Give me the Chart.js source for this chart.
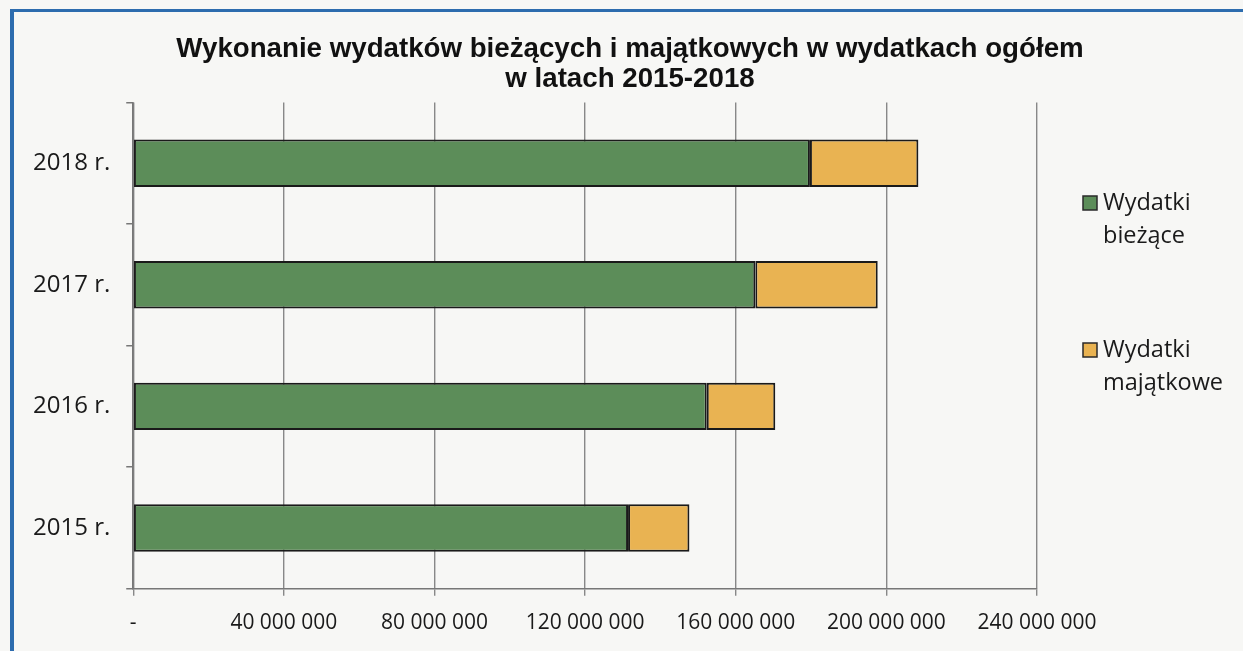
<!DOCTYPE html>
<html lang="pl">
<head>
<meta charset="utf-8">
<title>Wykonanie wydatków 2015-2018</title>
<script src="https://cdn.jsdelivr.net/npm/chart.js@4.4.1/dist/chart.umd.min.js"></script>
<style>
    html, body { margin: 0; padding: 0; background: #f7f7f5; overflow: hidden; }
    #frame {
        position: absolute; left: 10px; top: 9px; width: 1260px; height: 680px;
        border-left: 4px solid #2d6cae; border-top: 3px solid #2d6cae;
    }
    #wrap { position: absolute; left: 0; top: 0; width: 1243px; height: 651px; }
</style>
</head>
<body>
<div id="frame"></div>
<div id="wrap"><canvas id="spendingChart"></canvas></div>
<script>
// categories, top to bottom as in the picture
const years = ["2018 r.", "2017 r.", "2016 r.", "2015 r."];
const seriesNames = ["Wydatki bieżące", "Wydatki majątkowe"];
const currentSpending = [179700000, 165200000, 152300000, 131400000];
const capitalSpending = [28800000, 32500000, 18200000, 16300000];
const xTickValues = [0, 40000000, 80000000, 120000000, 160000000, 200000000, 240000000];
const titleLines = ["Wykonanie wydatków bieżących i majątkowych w wydatkach ogółem", "w latach 2015-2018"];
const seriesColors = ["#5c8d59", "#e9b352"];

const labelFont = "'Open Sans', sans-serif";
const textColor = "#1a1a1a";
const gridColor = "#888888";

function formatAmount(v) {
    if (v === 0) return "-";
    return String(v).replace(/\B(?=(\d{3})+(?!\d))/g, " ");
}

// legend on the right, each name broken into two lines
function drawLegend(chart, box) {
    const ctx = chart.ctx;
    const x = box.left + 46;
    const tops = [196, 343];
    ctx.save();
    ctx.font = "23.5px " + labelFont;
    ctx.textBaseline = "middle";
    ctx.textAlign = "left";
    chart.data.datasets.forEach((ds, i) => {
        const y = tops[i];
        ctx.fillStyle = ds.backgroundColor;
        ctx.fillRect(x, y, 14, 14);
        ctx.strokeStyle = "#2a2a2a";
        ctx.lineWidth = 1.5;
        ctx.strokeRect(x, y, 14, 14);
        ctx.fillStyle = textColor;
        const parts = ds.label.split(" ");
        ctx.fillText(parts[0], x + 20, y + 7);
        ctx.fillText(parts.slice(1).join(" "), x + 20, y + 40);
    });
    ctx.restore();
}

const sideLegend = {
    id: "sideLegend",
    beforeInit(chart) {
        Chart.layouts.addBox(chart, {
            position: "right",
            weight: 0,
            fullSize: false,
            options: {},
            isHorizontal() { return false; },
            update(maxWidth, maxHeight) {
                this.width = 206;
                this.height = maxHeight;
            },
            draw() { drawLegend(chart, this); }
        });
    }
};

const ctx = document.getElementById("spendingChart").getContext("2d");
const chart = new Chart(ctx, {
    type: "bar",
    data: {
        labels: years,
        datasets: [
            {
                label: seriesNames[0],
                data: currentSpending,
                backgroundColor: seriesColors[0],
                borderColor: "#1a1a1a",
                borderWidth: 2,
                borderSkipped: false
            },
            {
                label: seriesNames[1],
                data: capitalSpending,
                backgroundColor: seriesColors[1],
                borderColor: "#1a1a1a",
                borderWidth: 2,
                borderSkipped: false
            }
        ]
    },
    options: {
        indexAxis: "y",
        responsive: true,
        maintainAspectRatio: false,
        animation: false,
        barPercentage: 0.39,
        categoryPercentage: 1,
        layout: { padding: { top: 10, left: 17, right: 0, bottom: 0 } },
        scales: {
            x: {
                stacked: true,
                min: 0,
                max: 240000000,
                afterBuildTicks: scale => {
                    scale.ticks = xTickValues.map(v => ({ value: v }));
                },
                grid: { color: gridColor, lineWidth: 1.4, tickLength: 7 },
                border: { color: "#777777", width: 1.6 },
                ticks: {
                    autoSkip: false,
                    maxRotation: 0,
                    padding: 15,
                    color: textColor,
                    font: { family: labelFont, size: 21 },
                    callback: v => formatAmount(v)
                }
            },
            y: {
                stacked: true,
                grid: { drawOnChartArea: false, offset: true, tickLength: 7, color: "#777777", lineWidth: 1.5 },
                border: { color: "#777777", width: 1.6 },
                ticks: {
                    padding: 16,
                    color: textColor,
                    font: { family: labelFont, size: 24 }
                }
            }
        },
        plugins: {
            legend: { display: false },
            tooltip: { enabled: false },
            title: {
                display: true,
                text: titleLines,
                color: "#111111",
                font: { family: "'Liberation Sans', Arial, sans-serif", size: 27.7, weight: "bold", lineHeight: 1.09 },
                padding: { top: 24, bottom: 8 }
            }
        }
    },
    plugins: [sideLegend]
});
</script>
</body>
</html>
